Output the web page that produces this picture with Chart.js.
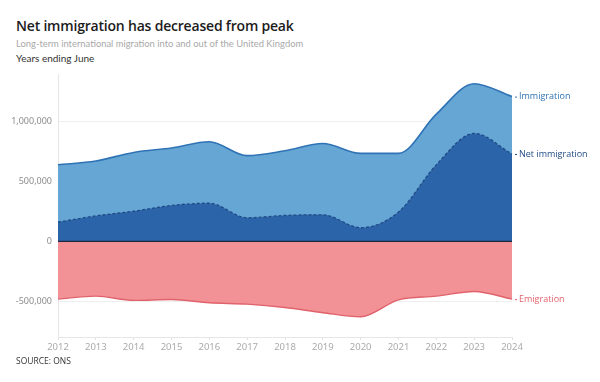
<!DOCTYPE html>
<html>
<head>
<meta charset="utf-8">
<script src="https://cdn.jsdelivr.net/npm/chart.js@4.4.1/dist/chart.umd.min.js"></script>
<style>
  body { margin: 0; background: #fff; font-family: "Open Sans", "Noto Sans", sans-serif; }
  #wrap { position: relative; width: 600px; height: 382px; }
  .title { position: absolute; left: 16px; top: 16px; font-size: 14px; font-weight: 600; color: #1c1c1c; letter-spacing: -0.2px; }
  .sub { position: absolute; left: 16px; top: 38px; font-family: Lato, sans-serif; font-size: 9.4px; color: #a9a9a9; }
  .unit { position: absolute; left: 16px; top: 52px; font-family: Lato, sans-serif; font-size: 10px; color: #333; }
  .source { position: absolute; left: 16px; top: 355px; font-size: 8.5px; color: #333; }
  #box { position: absolute; left: 0; top: 67px; width: 600px; height: 289px; }
</style>
</head>
<body>
<div id="wrap">
  <div class="title">Net immigration has decreased from peak</div>
  <div class="sub">Long-term international migration into and out of the United Kingdom</div>
  <div class="unit">Years ending June</div>
  <div id="box"><canvas id="mycanvas"></canvas></div>
  <div class="source">SOURCE: ONS</div>
</div>
<script>
var years = ["2012","2013","2014","2015","2016","2017","2018","2019","2020","2021","2022","2023","2024"];
var immigration = [641000, 672000, 744000, 781000, 833000, 717000, 758000, 819000, 736000, 736000, 1064000, 1319000, 1211000];
var netImmigration = [161000, 213000, 252000, 300000, 319000, 197000, 217000, 222000, 114000, 245000, 640000, 903000, 731000];
var emigration = [-483000, -458000, -494000, -486000, -514000, -525000, -553000, -597000, -631000, -489000, -458000, -419000, -483000];
var yTicks = [-500000, 0, 500000, 1000000];

var endLabels = [
  { ds: 1, text: "Immigration", color: "#2f73b5" },
  { ds: 0, text: "Net immigration", color: "#1f4a85" },
  { ds: 2, text: "Emigration", color: "#e0636c" }
];

var extras = {
  id: "extras",
  afterDatasetsDraw: function(chart) {
    var ctx = chart.ctx;
    var y = chart.scales.y;
    var area = chart.chartArea;
    // zero line over the fills
    ctx.save();
    ctx.strokeStyle = "#1b2840";
    ctx.lineWidth = 1.2;
    ctx.beginPath();
    ctx.moveTo(area.left, y.getPixelForValue(0));
    ctx.lineTo(area.right, y.getPixelForValue(0));
    ctx.stroke();
    // labels at the end of each series
    ctx.font = "500 9px 'Open Sans', sans-serif";
    ctx.textBaseline = "middle";
    endLabels.forEach(function(l) {
      var meta = chart.getDatasetMeta(l.ds);
      var pt = meta.data[meta.data.length - 1];
      ctx.strokeStyle = l.color;
      ctx.lineWidth = 1;
      ctx.beginPath();
      ctx.moveTo(pt.x + 3, pt.y + 0.5);
      ctx.lineTo(pt.x + 5, pt.y + 0.5);
      ctx.stroke();
      ctx.fillStyle = l.color;
      ctx.fillText(l.text, pt.x + 7, pt.y);
    });
    ctx.restore();
  }
};

var chartdata = {
  labels: years,
  datasets: [
    {
      label: "Net immigration",
      data: netImmigration,
      borderColor: "#1f4a85",
      borderDash: [3, 2],
      borderWidth: 1.3,
      backgroundColor: "#2c64a9",
      fill: "origin"
    },
    {
      label: "Immigration",
      data: immigration,
      borderColor: "#2f73b5",
      borderWidth: 1.6,
      backgroundColor: "#65a6d5",
      fill: "origin"
    },
    {
      label: "Emigration",
      data: emigration,
      borderColor: "#e0636c",
      borderWidth: 1.4,
      backgroundColor: "#f29196",
      fill: "origin"
    }
  ]
};

var ctx = document.getElementById("mycanvas");

var chart = new Chart(ctx, {
  type: "line",
  data: chartdata,
  plugins: [extras],
  options: {
    responsive: true,
    maintainAspectRatio: false,
    animation: false,
    layout: { padding: { top: 7, right: 88, left: 0, bottom: 0 } },
    elements: {
      point: { radius: 0 },
      line: { cubicInterpolationMode: "monotone" }
    },
    plugins: {
      legend: { display: false },
      tooltip: { enabled: false }
    },
    scales: {
      x: {
        grid: { display: true, drawOnChartArea: false, drawTicks: true, tickLength: 3, color: "#e2e2e2" },
        border: { color: "#e6e6e6" },
        offset: false,
        ticks: { color: "#ababab", font: { family: "Noto Sans", size: 9.5 }, maxRotation: 0, autoSkip: false, padding: 2 },
        afterFit: function(scale) {
          scale.height = 19;
          scale.paddingLeft = 0;
          scale.paddingRight = 0;
        }
      },
      y: {
        min: -800000,
        max: 1400000,
        afterBuildTicks: function(scale) {
          scale.ticks = yTicks.map(function(v) { return { value: v }; });
        },
        grid: { color: "#efefef", drawTicks: false },
        border: { color: "#e6e6e6" },
        ticks: {
          color: "#8c8c8c",
          padding: 6,
          font: { family: "Noto Sans", size: 9 },
          callback: function(v) { return v.toLocaleString("en-GB"); }
        },
        afterFit: function(scale) {
          scale.width = 58;
          scale.paddingTop = 0;
          scale.paddingBottom = 0;
        }
      }
    }
  }
});
</script>
</body>
</html>
